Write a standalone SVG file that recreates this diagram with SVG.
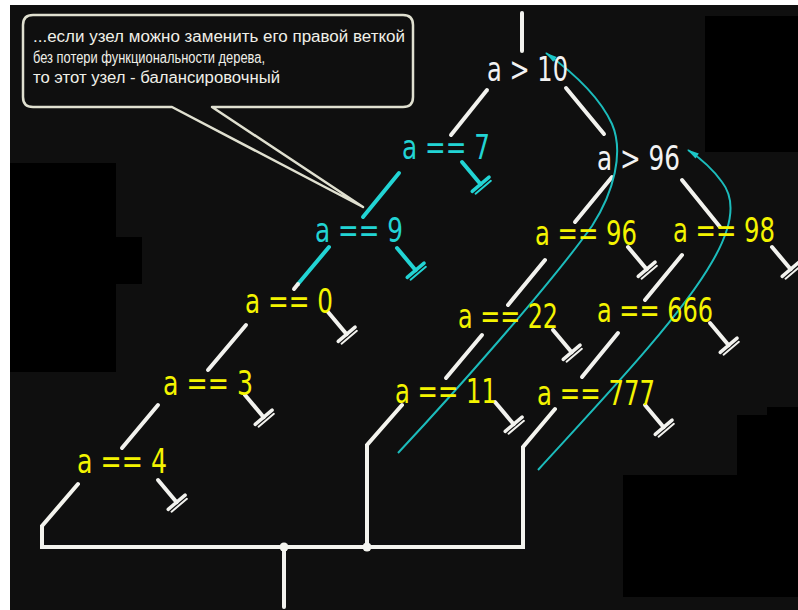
<svg xmlns="http://www.w3.org/2000/svg" xmlns:xlink="http://www.w3.org/1999/xlink" width="798" height="610" viewBox="0 0 798 610">
<style>
.lbl{font-family:"DejaVu Sans","Liberation Sans",sans-serif;font-size:34px}
.w{fill:#f2f2f2}
.c{fill:#22d4d4}
.y{fill:#f4f400}
.ew{stroke:#f2f2ee;stroke-width:4;stroke-linecap:round;fill:none}
.ec{stroke:#22d4d4;stroke-width:4;stroke-linecap:round;fill:none}
.bus{stroke:#f4f4ee;stroke-width:4;fill:none;stroke-linejoin:miter}
.curve{stroke:#1cbcbc;stroke-width:2;fill:none}
.note{font-family:"Liberation Sans",Arial,sans-serif;font-size:16px;fill:#f0f0e8}
</style>
<defs>
<marker id="arr" viewBox="0 0 12 8" refX="11" refY="4" markerWidth="14" markerHeight="8" markerUnits="userSpaceOnUse" orient="auto">
<path d="M0,1 L12,4 L0,7 Z" fill="#1cc8c8"/>
</marker>
<g id="gw" stroke="#f2f2ee" stroke-linecap="round" fill="none">
<line x1="0" y1="0" x2="29" y2="0" stroke-width="4"/>
<line x1="29" y1="-11" x2="29" y2="11" stroke-width="3.5"/>
<line x1="33" y1="-10" x2="33" y2="10" stroke-width="2"/>
</g>
<g id="gc" stroke="#22d4d4" stroke-linecap="round" fill="none">
<line x1="0" y1="0" x2="29" y2="0" stroke-width="4"/>
<line x1="29" y1="-11" x2="29" y2="11" stroke-width="3.5"/>
<line x1="33" y1="-10" x2="33" y2="10" stroke-width="2"/>
</g>
</defs>

<g id="background">
<rect x="0" y="0" width="798" height="610" fill="#ffffff"/>
<rect x="10" y="5" width="788" height="605" fill="#0f0f0f"/>
<rect x="705" y="16" width="93" height="136" fill="#000"/>
<rect x="10" y="163" width="106" height="209" fill="#000"/>
<rect x="116" y="237" width="26" height="47" fill="#000"/>
<rect x="623" y="475" width="175" height="122" fill="#000"/>
<rect x="737" y="415" width="61" height="60" fill="#000"/>
<rect x="767" y="407" width="31" height="8" fill="#000"/>
</g>

<g id="callout">
<path d="M33,15 H403 Q413,15 413,25 V97 Q413,107 403,107 H212 L363,207 L172,107 H33 Q23,107 23,97 V25 Q23,15 33,15 Z" fill="#0f0f0f" stroke="#e0e0d0" stroke-width="2.5" stroke-linejoin="round"/>
<text class="note" x="33" y="42" textLength="372" lengthAdjust="spacingAndGlyphs">...если узел можно заменить его правой веткой</text>
<text class="note" x="33" y="63" textLength="232" lengthAdjust="spacingAndGlyphs">без потери функциональности дерева,</text>
<text class="note" x="33" y="83" textLength="247" lengthAdjust="spacingAndGlyphs">то этот узел - балансировочный</text>
</g>

<g id="connectors">
<line class="ew" x1="522" y1="13" x2="522" y2="51"/>
<line class="ew" x1="487" y1="90" x2="451" y2="135"/>
<line class="ew" x1="566" y1="88" x2="604" y2="134"/>
<line class="ew" x1="612" y1="177" x2="575" y2="222"/>
<line class="ew" x1="682" y1="180" x2="720" y2="227"/>
<line class="ew" x1="545" y1="260" x2="508" y2="305"/>
<line class="ew" x1="482" y1="335" x2="446" y2="378"/>
<line class="ew" x1="682" y1="255" x2="645" y2="300"/>
<line class="ew" x1="618" y1="333" x2="582" y2="377"/>
<line class="ew" x1="246" y1="325" x2="208" y2="370"/>
<line class="ew" x1="158" y1="405" x2="122" y2="448"/>
<line class="ec" x1="399" y1="173" x2="363" y2="217"/>
<line class="ec" x1="329" y1="247" x2="298" y2="284"/>
<line class="ew" x1="298" y1="284" x2="294" y2="289"/>
<polyline class="bus" points="78,484 42,526 42,547 523,547 523,447 555,409" stroke-linecap="round"/>
<polyline class="bus" points="402,405 367,445 367,547" stroke-linecap="round"/>
<line class="ew" x1="284" y1="547" x2="284" y2="607"/>
<circle cx="284" cy="547" r="4.5" fill="#f4f4ee"/>
<circle cx="367" cy="547" r="4.5" fill="#f4f4ee"/>
<use xlink:href="#gc" transform="translate(462,162) rotate(50)"/>
<use xlink:href="#gc" transform="translate(397,248) rotate(50)"/>
<use xlink:href="#gw" transform="translate(328,312) rotate(50)"/>
<use xlink:href="#gw" transform="translate(245,395) rotate(50)"/>
<use xlink:href="#gw" transform="translate(158,480) rotate(50)"/>
<use xlink:href="#gw" transform="translate(628,247) rotate(50)"/>
<use xlink:href="#gw" transform="translate(772,247) rotate(50)"/>
<use xlink:href="#gw" transform="translate(553,330) rotate(50)"/>
<use xlink:href="#gw" transform="translate(495,402) rotate(50)"/>
<use xlink:href="#gw" transform="translate(710,323) rotate(50)"/>
<use xlink:href="#gw" transform="translate(645,405) rotate(50)"/>
<path class="curve" d="M398,453 C455,392 550,285 592,226 C614,192 624,152 612,124 C601,100 578,76 546,53" marker-end="url(#arr)"/>
<path class="curve" d="M538,470 C600,402 680,318 712,262 C732,228 736,200 722,182 C712,168 700,158 688,150" marker-end="url(#arr)"/>
</g>

<g id="n_a_gt_10"><text class="lbl w" x="487" y="81" textLength="81" lengthAdjust="spacingAndGlyphs">a &gt; 10</text></g>
<g id="n_a_eq_7"><text class="lbl c" x="402" y="159" textLength="88" lengthAdjust="spacingAndGlyphs">a == 7</text></g>
<g id="n_a_gt_96"><text class="lbl w" x="597" y="170" textLength="83" lengthAdjust="spacingAndGlyphs">a &gt; 96</text></g>
<g id="n_a_eq_96"><text class="lbl y" x="535" y="245" textLength="102" lengthAdjust="spacingAndGlyphs">a == 96</text></g>
<g id="n_a_eq_98"><text class="lbl y" x="673" y="242" textLength="102" lengthAdjust="spacingAndGlyphs">a == 98</text></g>
<g id="n_a_eq_9"><text class="lbl c" x="315" y="242" textLength="88" lengthAdjust="spacingAndGlyphs">a == 9</text></g>
<g id="n_a_eq_0"><text class="lbl y" x="245" y="313" textLength="88" lengthAdjust="spacingAndGlyphs">a == 0</text></g>
<g id="n_a_eq_22"><text class="lbl y" x="458" y="328" textLength="100" lengthAdjust="spacingAndGlyphs">a == 22</text></g>
<g id="n_a_eq_666"><text class="lbl y" x="597" y="322" textLength="116" lengthAdjust="spacingAndGlyphs">a == 666</text></g>
<g id="n_a_eq_11"><text class="lbl y" x="395" y="403" textLength="102" lengthAdjust="spacingAndGlyphs">a == 11</text></g>
<g id="n_a_eq_777"><text class="lbl y" x="537" y="405" textLength="118" lengthAdjust="spacingAndGlyphs">a == 777</text></g>
<g id="n_a_eq_3"><text class="lbl y" x="163" y="395" textLength="90" lengthAdjust="spacingAndGlyphs">a == 3</text></g>
<g id="n_a_eq_4"><text class="lbl y" x="77" y="473" textLength="90" lengthAdjust="spacingAndGlyphs">a == 4</text></g>
</svg>
